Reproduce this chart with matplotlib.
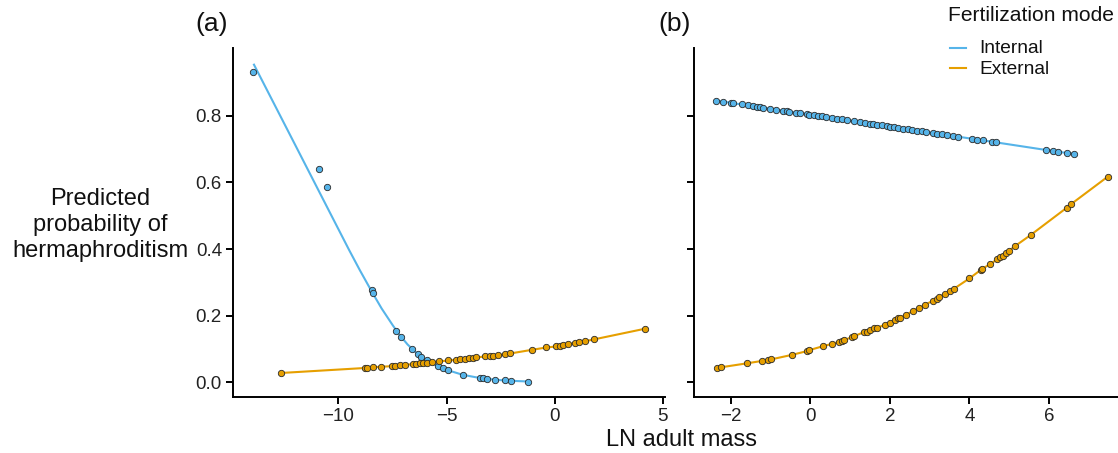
import matplotlib
matplotlib.use("Agg")
import matplotlib.pyplot as plt
from matplotlib.lines import Line2D

plt.rcParams['font.family'] = ['Liberation Sans', 'DejaVu Sans']

BLUE = '#56B4E9'
ORANGE = '#E69F00'

# ---- Panel (a) data ----
a_int_x = [-13.93, -10.88, -10.51, -8.46, -8.41, -7.33, -7.12, -6.59, -6.31, -6.16,
           -5.88, -5.39, -5.16, -4.93, -4.23, -3.46, -3.31, -3.15, -2.74, -2.31, -2.00, -1.23]
a_int_y = [0.931, 0.641, 0.587, 0.277, 0.267, 0.154, 0.137, 0.101, 0.085, 0.077,
           0.067, 0.049, 0.043, 0.037, 0.022, 0.014, 0.013, 0.011, 0.008, 0.007, 0.005, 0.002]
a_int_fit_x = [-13.9, -12.0, -10.45, -9.5, -9.0, -8.45, -8.0, -7.5, -7.2, -6.8, -6.4, -6.0,
               -5.6, -5.2, -4.8, -4.4, -4.0, -3.5, -3.0, -2.5, -2.0, -1.23]
a_int_fit_y = [0.953, 0.713, 0.517, 0.397, 0.336, 0.272, 0.222, 0.173, 0.145, 0.114, 0.089, 0.070,
               0.055, 0.043, 0.034, 0.026, 0.020, 0.014, 0.010, 0.007, 0.005, 0.003]

a_ext_x = [-12.65, -8.77, -8.67, -8.39, -8.05, -7.54, -7.36, -7.13, -6.93, -6.54, -6.39, -6.23,
           -6.08, -5.88, -5.66, -5.34, -4.93, -4.54, -4.39, -4.16, -3.96, -3.77, -3.62, -3.23,
           -3.00, -2.85, -2.62, -2.31, -2.05, -1.05, -0.38, 0.08, 0.23, 0.38, 0.61, 0.92,
           1.11, 1.42, 1.80, 4.16]
a_ext_y = [0.0285, 0.0435, 0.0435, 0.0455, 0.047, 0.049, 0.050, 0.052, 0.053, 0.055, 0.056, 0.057,
           0.058, 0.059, 0.060, 0.063, 0.066, 0.068, 0.070, 0.071, 0.072, 0.074, 0.075, 0.078,
           0.079, 0.080, 0.082, 0.084, 0.087, 0.098, 0.105, 0.108, 0.110, 0.111, 0.114, 0.118,
           0.121, 0.124, 0.129, 0.161]

# ---- Panel (b) data ----
b_int_x = [-2.37, -2.19, -2.01, -1.94, -1.73, -1.56, -1.44, -1.35, -1.27, -1.20, -1.02, -0.87,
           -0.68, -0.60, -0.53, -0.36, -0.26, -0.09, -0.03, 0.09, 0.20, 0.28, 0.39, 0.54, 0.66,
           0.79, 0.91, 1.10, 1.25, 1.37, 1.50, 1.58, 1.68, 1.79, 1.92, 2.00, 2.10, 2.21, 2.34,
           2.46, 2.55, 2.67, 2.80, 2.92, 3.09, 3.18, 3.30, 3.43, 3.59, 3.72, 4.06, 4.20, 4.35,
           4.56, 4.67, 5.94, 6.10, 6.24, 6.45, 6.63]
b_int_y = [0.845, 0.842, 0.839, 0.837, 0.834, 0.831, 0.829, 0.827, 0.826, 0.824, 0.821, 0.818,
           0.815, 0.814, 0.812, 0.809, 0.808, 0.805, 0.803, 0.801, 0.799, 0.798, 0.796, 0.793, 0.791,
           0.789, 0.787, 0.783, 0.781, 0.779, 0.776, 0.775, 0.773, 0.771, 0.769, 0.767, 0.766, 0.764, 0.761,
           0.759, 0.758, 0.755, 0.753, 0.751, 0.748, 0.746, 0.744, 0.742, 0.739, 0.737, 0.731, 0.728, 0.726,
           0.722, 0.720, 0.697, 0.695, 0.692, 0.688, 0.686]

b_ext_x = [-2.36, -2.25, -1.59, -1.23, -1.06, -1.00, -0.46, -0.09, -0.03, 0.32, 0.55, 0.72, 0.79,
           0.85, 1.04, 1.10, 1.35, 1.42, 1.50, 1.61, 1.67, 1.88, 1.99, 2.13, 2.21, 2.25, 2.40,
           2.57, 2.73, 2.88, 3.08, 3.18, 3.24, 3.39, 3.51, 3.61, 4.00, 4.28, 4.33, 4.52, 4.70,
           4.77, 4.84, 4.92, 5.00, 5.15, 5.54, 6.45, 6.55, 7.48]
b_ext_y = [0.0444, 0.0456, 0.0576, 0.0645, 0.068, 0.069, 0.083, 0.094, 0.097, 0.109, 0.116, 0.122, 0.125,
           0.127, 0.136, 0.139, 0.151, 0.152, 0.157, 0.163, 0.164, 0.173, 0.179, 0.187, 0.193, 0.194, 0.202,
           0.214, 0.223, 0.233, 0.245, 0.251, 0.256, 0.266, 0.275, 0.281, 0.312, 0.337, 0.341, 0.355, 0.369,
           0.375, 0.380, 0.387, 0.395, 0.409, 0.442, 0.524, 0.534, 0.617]

a_xticks = [-10, -5, 0, 5]
a_xticklabels = ['\u221210', '\u22125', '0', '5']
b_xticks = [-2, 0, 2, 4, 6]
b_xticklabels = ['\u22122', '0', '2', '4', '6']
yticks = [0.0, 0.2, 0.4, 0.6, 0.8]
yticklabels = ['0.0', '0.2', '0.4', '0.6', '0.8']
ylabel_lines = ['Predicted', 'probability of', 'hermaphroditism']
legend_title = 'Fertilization mode'
legend_labels = ['Internal', 'External']

W, H = 1118, 453
fig = plt.figure(figsize=(W / 100, H / 100), dpi=100)

def fx(px):
    return px / W

def fy(py):
    return 1 - py / H

ax_a = fig.add_axes([fx(233), fy(397), fx(665) - fx(233), fy(48) - fy(397)])
ax_b = fig.add_axes([fx(694), fy(397), fx(1118) - fx(694), fy(48) - fy(397)])

ylim = (-0.0435, 1.003)
pt = dict(s=21, linewidths=0.6, edgecolors='#2a2a2a', zorder=3, clip_on=False)
lw = 1.5
TXT = '#111111'

ax_a.plot(a_int_fit_x, a_int_fit_y, color=BLUE, lw=lw, zorder=2)
ax_a.plot(a_ext_x, a_ext_y, color=ORANGE, lw=lw, zorder=2)
ax_a.scatter(a_int_x, a_int_y, color=BLUE, **pt)
ax_a.scatter(a_ext_x, a_ext_y, color=ORANGE, **pt)
ax_a.set_xlim(-14.87, 5.1)
ax_a.set_ylim(*ylim)
ax_a.set_xticks(a_xticks)
ax_a.set_xticklabels(a_xticklabels)
ax_a.set_yticks(yticks)
ax_a.set_yticklabels(yticklabels)

ax_b.plot(b_int_x, b_int_y, color=BLUE, lw=lw, zorder=2)
ax_b.plot(b_ext_x, b_ext_y, color=ORANGE, lw=lw, zorder=2)
ax_b.scatter(b_int_x, b_int_y, color=BLUE, **pt)
ax_b.scatter(b_ext_x, b_ext_y, color=ORANGE, **pt)
ax_b.set_xlim(-2.93, 7.74)
ax_b.set_ylim(*ylim)
ax_b.set_xticks(b_xticks)
ax_b.set_xticklabels(b_xticklabels)
ax_b.set_yticks(yticks)
ax_b.set_yticklabels([])

for ax in (ax_a, ax_b):
    for s in ('top', 'right'):
        ax.spines[s].set_visible(False)
    for s in ('left', 'bottom'):
        ax.spines[s].set_linewidth(1.4)
        ax.spines[s].set_color('black')
    ax.tick_params(direction='out', length=5, width=1.4, labelsize=13.5,
                   labelcolor='#222222', pad=3)

for i, line in enumerate(ylabel_lines):
    fig.text(fx(100), fy(205 + 26 * i), line, ha='center', va='baseline',
             fontsize=17, color=TXT)
fig.text(fx(681), fy(446), 'LN adult mass', ha='center', va='baseline', fontsize=17, color=TXT)
fig.text(fx(195), fy(31), '(a)', ha='left', va='baseline', fontsize=19, color=TXT)
fig.text(fx(658), fy(31), '(b)', ha='left', va='baseline', fontsize=19, color=TXT)

# legend
fig.text(fx(948), fy(21), legend_title, ha='left', va='baseline', fontsize=15.1, color=TXT)
for i, (lab, col) in enumerate(zip(legend_labels, [BLUE, ORANGE])):
    yl = fy(47.5 + 20.5 * i)
    fig.add_artist(Line2D([fx(950), fx(966)], [yl, yl], transform=fig.transFigure,
                          color=col, lw=lw))
    fig.text(fx(979), fy(53 + 20.5 * i), lab, ha='left', va='baseline', fontsize=13.8, color=TXT)

fig.savefig('out.png', dpi=100)
